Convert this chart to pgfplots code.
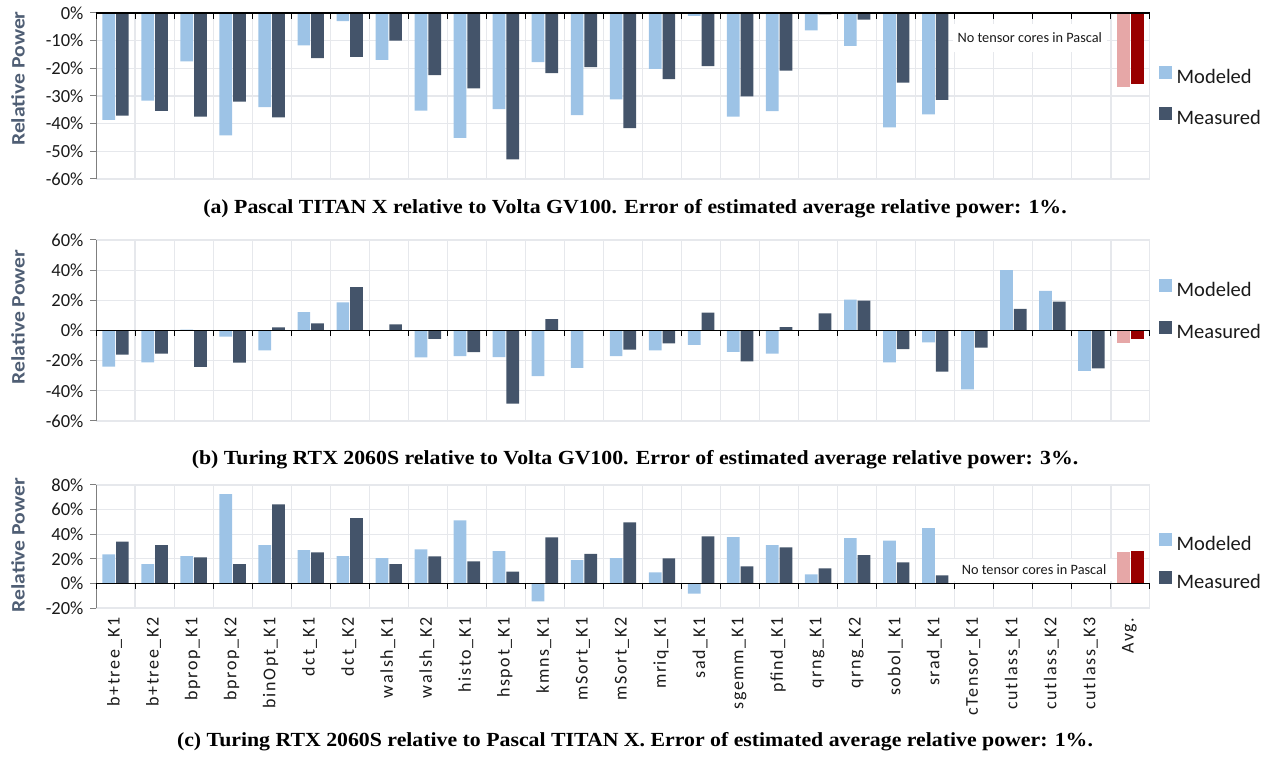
\documentclass[border=0pt]{standalone}
\usepackage{pgfplots}
\pgfplotsset{compat=1.18}
\usepackage{fontspec}
\setmainfont{Carlito}
\newfontfamily\capfont[FakeStretch=1.09]{Liberation Serif}
\newfontfamily\ylabfamily[FakeStretch=1.14]{Carlito}
\newfontfamily\xlabfamily[LetterSpace=9]{Carlito}

\definecolor{modc}{HTML}{9DC3E6}
\definecolor{meac}{HTML}{44546A}
\definecolor{avgmod}{HTML}{E6A7A7}
\definecolor{avgmea}{HTML}{990000}
\definecolor{gridc}{HTML}{E6E8EC}
\definecolor{axc}{HTML}{7F7F7F}
\definecolor{ylabc}{HTML}{4F5E74}
\definecolor{txtc}{HTML}{1A1A1A}

\pgfplotsset{
 mybase/.style={
  scale only axis, width=1054pt,
  xmin=-0.5, xmax=26.5,
  axis y line*=left, axis x line*=bottom,
  x axis line style={draw=none},
  y axis line style={draw=axc, line width=1pt, -},
  xtick={0,...,26},
  xtick style={draw=none},
  xmajorgrids=false, xminorgrids=false, ymajorgrids=true,
  major grid style={draw=gridc, line width=1.1pt},
  ytick style={draw=axc, line width=1pt},
  tick align=outside, major tick length=6pt,
  yticklabel style={font=\fontsize{18.5}{20}\selectfont, color=txtc, xshift=-3pt},
  ylabel={Relative Power},
  ylabel style={font=\ylabfamily\bfseries\fontsize{19}{20}\selectfont, color=ylabc, anchor=center},
  ybar, bar width=12.7pt,
  legend style={draw=none, fill=none, font=\fontsize{20.5}{22}\selectfont, anchor=west,
     inner sep=0pt, nodes={inner sep=1pt, text height=14pt, text depth=4pt, text=txtc},
     /tikz/every odd column/.append style={column sep=4pt}},
  legend cell align=left,
 },
 sq/.style={legend image code/.code={\fill[##1] (0pt,-0.5pt) rectangle (12.5pt,12.5pt);}},
}

\begin{document}
\begin{tikzpicture}
\useasboundingbox (0pt,0pt) rectangle (1270pt,761pt);

% ---------- (a) ----------
\begin{axis}[mybase, at={(96pt,582pt)}, anchor=south west, height=166pt,
  ymin=-60, ymax=0, ytick={-60,-50,...,0},
  yticklabels={-60\%,-50\%,-40\%,-30\%,-20\%,-10\%,0\%},
  xticklabels={},
  ylabel style={at={(axis description cs:-0.074,0.605)}},
  legend style={at={(axis description cs:1,0.49)}, xshift=9pt, row sep=19pt}]
\addplot[fill=modc, draw=none, bar shift=-6.85pt, sq] coordinates {
(0,-38.6) (1,-31.7) (2,-17.5) (3,-44.2) (4,-34.0) (5,-11.7) (6,-2.9) (7,-16.9) (8,-35.3)
(9,-45.1) (10,-34.7) (11,-17.8) (12,-36.9) (13,-31.2) (14,-20.2) (15,-1.0) (16,-37.5)
(17,-35.5) (18,-6.3) (19,-11.9) (20,-41.3) (21,-36.6)};
\addplot[fill=meac, draw=none, bar shift=6.85pt, sq] coordinates {
(0,-37.1) (1,-35.4) (2,-37.5) (3,-32.0) (4,-37.7) (5,-16.3) (6,-15.9) (7,-10.0) (8,-22.5)
(9,-27.2) (10,-52.9) (11,-21.7) (12,-19.6) (13,-41.6) (14,-23.9) (15,-19.2) (16,-30.1)
(17,-20.8) (18,-0.5) (19,-2.4) (20,-25.2) (21,-31.4)};
\addplot[fill=avgmod, draw=none, bar shift=-6.85pt, forget plot] coordinates {(26,-26.9)};
\addplot[fill=avgmea, draw=none, bar shift=6.85pt, forget plot] coordinates {(26,-25.8)};
\legend{Modeled,Measured}
\pgfplotsinvokeforeach{0.5,1.5,...,26.5}{\draw[gridc, line width=1.1pt] (axis cs:#1,-60) -- (axis cs:#1,0);}
\node[fill=white, inner xsep=5pt, inner ysep=9pt, font=\fontsize{14.3}{15}\selectfont, text=txtc] at (axis cs:23.42,-9.0) {No tensor cores in Pascal};
\draw[black, line width=1.2pt] (axis cs:-0.5,0) -- (axis cs:26.5,0);
\pgfplotsinvokeforeach{-0.5,0.5,...,26.5}{\draw[black, line width=1pt] (axis cs:#1,0) -- ++(0pt,-6pt);}
\end{axis}

% ---------- (b) ----------
\begin{axis}[mybase, at={(96pt,340pt)}, anchor=south west, height=181pt,
  ymin=-60, ymax=60, ytick={-60,-40,...,60},
  yticklabels={-60\%,-40\%,-20\%,0\%,20\%,40\%,60\%},
  xticklabels={},
  ylabel style={at={(axis description cs:-0.074,0.575)}},
  legend style={at={(axis description cs:1,0.605)}, xshift=9pt, row sep=19pt}]
\addplot[fill=modc, draw=none, bar shift=-6.85pt, sq] coordinates {
(0,-24.0) (1,-21.1) (2,0.5) (3,-4.0) (4,-13.2) (5,12.1) (6,18.7) (7,0) (8,-17.8)
(9,-17.0) (10,-17.6) (11,-30.3) (12,-24.8) (13,-17.0) (14,-13.2) (15,-9.5) (16,-14.1)
(17,-15.4) (18,0.3) (19,20.4) (20,-21.1) (21,-7.9) (22,-39.1) (23,40.0) (24,26.2) (25,-26.8)};
\addplot[fill=meac, draw=none, bar shift=6.85pt, sq] coordinates {
(0,-16.0) (1,-15.4) (2,-24.2) (3,-21.3) (4,2.0) (5,4.8) (6,28.8) (7,4.0) (8,-5.5)
(9,-14.3) (10,-48.4) (11,7.5) (12,0) (13,-12.7) (14,-8.6) (15,11.9) (16,-20.4)
(17,2.2) (18,11.4) (19,19.8) (20,-12.3) (21,-27.2) (22,-11.4) (23,14.3) (24,19.1) (25,-25.1)};
\addplot[fill=avgmod, draw=none, bar shift=-6.85pt, forget plot] coordinates {(26,-8.1)};
\addplot[fill=avgmea, draw=none, bar shift=6.85pt, forget plot] coordinates {(26,-5.5)};
\legend{Modeled,Measured}
\pgfplotsinvokeforeach{0.5,1.5,...,26.5}{\draw[gridc, line width=1.1pt] (axis cs:#1,-60) -- (axis cs:#1,60);}
\draw[black, line width=1.2pt] (axis cs:-0.5,0) -- (axis cs:26.5,0);
\pgfplotsinvokeforeach{-0.5,0.5,...,26.5}{\draw[black, line width=1pt] (axis cs:#1,0) -- ++(0pt,-6pt);}
\end{axis}

% ---------- (c) ----------
\begin{axis}[mybase, at={(96pt,153pt)}, anchor=south west, height=123pt,
  ymin=-20, ymax=80, ytick={-20,0,...,80},
  yticklabels={-20\%,0\%,20\%,40\%,60\%,80\%},
  xticklabels={b+tree\_K1,b+tree\_K2,bprop\_K1,bprop\_K2,binOpt\_K1,dct\_K1,dct\_K2,walsh\_K1,walsh\_K2,histo\_K1,hspot\_K1,kmns\_K1,mSort\_K1,mSort\_K2,mriq\_K1,sad\_K1,sgemm\_K1,pfind\_K1,qrng\_K1,qrng\_K2,sobol\_K1,srad\_K1,cTensor\_K1,cutlass\_K1,cutlass\_K2,cutlass\_K3,Avg.},
  xticklabel style={rotate=90, anchor=east, font=\xlabfamily\fontsize{18}{19}\selectfont, text=txtc, yshift=1pt},
  ylabel style={at={(axis description cs:-0.074,0.51)}},
  legend style={at={(axis description cs:1,0.365)}, xshift=9pt, row sep=16pt}]
\addplot[fill=modc, draw=none, bar shift=-6.85pt, sq] coordinates {
(0,23.6) (1,15.7) (2,22.2) (3,72.6) (4,31.2) (5,27.1) (6,22.2) (7,20.6) (8,27.6)
(9,51.2) (10,26.3) (11,-14.6) (12,19.0) (13,20.6) (14,8.9) (15,-8.4) (16,37.7)
(17,31.2) (18,7.3) (19,36.9) (20,34.7) (21,45.0)};
\addplot[fill=meac, draw=none, bar shift=6.85pt, sq] coordinates {
(0,33.9) (1,31.2) (2,21.1) (3,15.7) (4,64.2) (5,25.2) (6,53.1) (7,15.7) (8,22.0)
(9,17.9) (10,9.5) (11,37.4) (12,24.1) (13,49.6) (14,20.3) (15,38.2) (16,13.8)
(17,29.3) (18,12.2) (19,23.0) (20,17.1) (21,6.5)};
\addplot[fill=avgmod, draw=none, bar shift=-6.85pt, forget plot] coordinates {(26,25.5)};
\addplot[fill=avgmea, draw=none, bar shift=6.85pt, forget plot] coordinates {(26,26.3)};
\legend{Modeled,Measured}
\pgfplotsinvokeforeach{0.5,1.5,...,26.5}{\draw[gridc, line width=1.1pt] (axis cs:#1,-20) -- (axis cs:#1,80);}
\node[fill=white, inner xsep=8pt, inner ysep=6pt, font=\fontsize{14.3}{15}\selectfont, text=txtc] at (axis cs:23.53,11.0) {No tensor cores in Pascal};
\draw[black, line width=1.2pt] (axis cs:-0.5,0) -- (axis cs:26.5,0);
\pgfplotsinvokeforeach{-0.5,0.5,...,26.5}{\draw[black, line width=1pt] (axis cs:#1,0) -- ++(0pt,-6pt);}
\end{axis}

% ---------- captions ----------
\node[font=\capfont\bfseries\fontsize{20}{22}\selectfont, text=black] at (635pt,552pt) {(a) Pascal TITAN X relative to Volta GV100. Error of estimated average relative power: 1\%.};
\node[font=\capfont\bfseries\fontsize{20}{22}\selectfont, text=black] at (635pt,301pt) {(b) Turing RTX 2060S relative to Volta GV100. Error of estimated average relative power: 3\%.};
\node[font=\capfont\bfseries\fontsize{20}{22}\selectfont, text=black] at (635pt,19pt) {(c) Turing RTX 2060S relative to Pascal TITAN X. Error of estimated average relative power: 1\%.};
\end{tikzpicture}
\end{document}
